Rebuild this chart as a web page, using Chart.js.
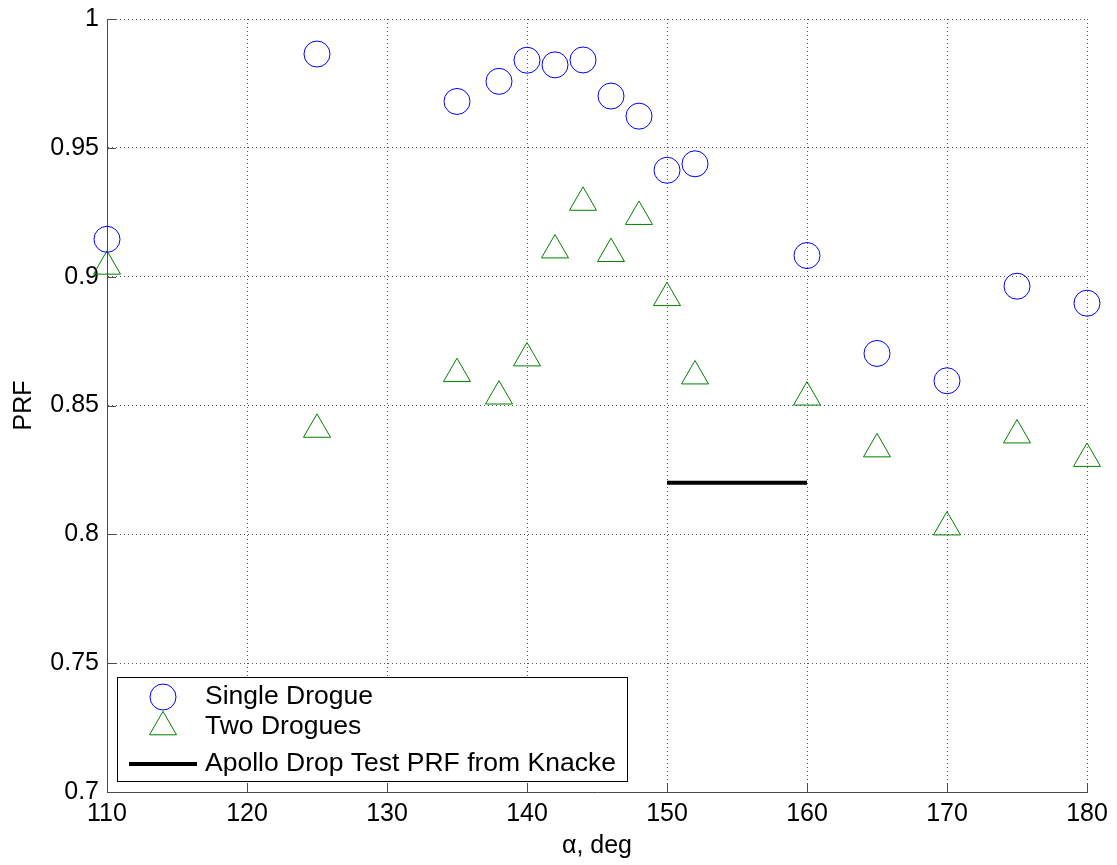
<!DOCTYPE html>
<html>
<head>
<meta charset="utf-8">
<title>PRF vs alpha</title>
<script src="https://cdn.jsdelivr.net/npm/chart.js@4.4.1/dist/chart.umd.min.js"></script>
<style>
  html, body { margin: 0; padding: 0; background: #fff; }
  #wrap { width: 1117px; height: 865px; }
</style>
</head>
<body>
<div id="wrap"><canvas id="chart" width="1117" height="865"></canvas></div>
<script>
// values
const alphaSingle = [110, 125, 135, 138, 140, 142, 144, 146, 148, 150, 152, 160, 165, 170, 175, 180];
const prfSingle = [0.9145, 0.9864, 0.968, 0.9758, 0.984, 0.9822, 0.9841, 0.9701, 0.9623, 0.9413, 0.9438, 0.9082, 0.8702, 0.8596, 0.8963, 0.8897];
const alphaTwo = [110, 125, 135, 138, 140, 142, 144, 146, 148, 150, 152, 160, 165, 170, 175, 180];
const prfTwo = [0.904, 0.8407, 0.8623, 0.8536, 0.8684, 0.9103, 0.9288, 0.9089, 0.9233, 0.8918, 0.8614, 0.8532, 0.8331, 0.8028, 0.8385, 0.8294];
const alphaApollo = [150, 160];
const prfApollo = [0.82, 0.82];

const xTicks = [110, 120, 130, 140, 150, 160, 170, 180];
const yTicks = [0.7, 0.75, 0.8, 0.85, 0.9, 0.95, 1];
const yTickLabels = ["0.7", "0.75", "0.8", "0.85", "0.9", "0.95", "1"];
const seriesNames = ["Single Drogue", "Two Drogues", "Apollo Drop Test PRF from Knacke"];

const BLUE = "#0000ff";
const GREEN = "#008000";
const AXIS = "#4a4a4a";
const FONT = "'Liberation Sans', Arial, Helvetica, sans-serif";

Chart.defaults.font.family = FONT;
Chart.defaults.font.size = 25;
Chart.defaults.color = "#000";

const toPoints = (xs, ys) => xs.map((x, i) => ({ x, y: ys[i] }));

// small inward tick marks like the MATLAB axes
const innerTicks = {
  id: "innerTicks",
  afterDatasetsDraw(chart) {
    const { ctx, chartArea, scales } = chart;
    ctx.save();
    ctx.strokeStyle = AXIS;
    ctx.lineWidth = 1;
    ctx.beginPath();
    xTicks.forEach((v) => {
      const px = Math.round(scales.x.getPixelForValue(v)) + 0.5;
      ctx.moveTo(px, chartArea.bottom);
      ctx.lineTo(px, chartArea.bottom - 9);
    });
    yTicks.forEach((v) => {
      const py = Math.round(scales.y.getPixelForValue(v)) + 0.5;
      ctx.moveTo(chartArea.left, py);
      ctx.lineTo(chartArea.left + 9, py);
    });
    ctx.stroke();
    ctx.restore();
  },
};

// boxed legend drawn inside the lower-left of the plot
const boxLegend = {
  id: "boxLegend",
  afterDraw(chart) {
    const { ctx } = chart;
    const box = { x: 117.5, y: 677.5, w: 510, h: 104 };
    const markX = 163;
    const textX = 205;
    const rows = [697, 727, 764];
    ctx.save();
    ctx.fillStyle = "#fff";
    ctx.fillRect(box.x, box.y, box.w, box.h);
    ctx.strokeStyle = "#000";
    ctx.lineWidth = 1;
    ctx.strokeRect(box.x, box.y, box.w, box.h);

    // circle
    ctx.strokeStyle = BLUE;
    ctx.beginPath();
    ctx.arc(markX, rows[0], 13, 0, Math.PI * 2);
    ctx.stroke();
    // triangle
    const r = 15.6;
    ctx.strokeStyle = GREEN;
    ctx.beginPath();
    ctx.moveTo(markX, rows[1] - r);
    ctx.lineTo(markX + 0.866 * r, rows[1] + r / 2);
    ctx.lineTo(markX - 0.866 * r, rows[1] + r / 2);
    ctx.closePath();
    ctx.stroke();
    // line sample
    ctx.strokeStyle = "#000";
    ctx.lineWidth = 4;
    ctx.beginPath();
    ctx.moveTo(129, rows[2]);
    ctx.lineTo(197, rows[2]);
    ctx.stroke();

    ctx.fillStyle = "#000";
    ctx.font = "26.5px " + FONT;
    ctx.textBaseline = "middle";
    ctx.textAlign = "left";
    seriesNames.forEach((name, i) => ctx.fillText(name, textX, rows[i]));
    ctx.restore();
  },
};

new Chart(document.getElementById("chart"), {
  type: "scatter",
  data: {
    datasets: [
      {
        label: seriesNames[0],
        data: toPoints(alphaSingle, prfSingle),
        pointStyle: "circle",
        pointRadius: 13,
        pointHoverRadius: 13,
        borderColor: BLUE,
        backgroundColor: "rgba(0,0,0,0)",
        borderWidth: 1,
        clip: false,
      },
      {
        label: seriesNames[1],
        data: toPoints(alphaTwo, prfTwo),
        pointStyle: "triangle",
        pointRadius: 15.6,
        pointHoverRadius: 15.6,
        borderColor: GREEN,
        backgroundColor: "rgba(0,0,0,0)",
        borderWidth: 1,
        clip: false,
      },
      {
        label: seriesNames[2],
        data: toPoints(alphaApollo, prfApollo),
        showLine: true,
        borderColor: "#000",
        borderWidth: 4,
        pointRadius: 0,
        pointHoverRadius: 0,
        clip: false,
      },
    ],
  },
  options: {
    responsive: false,
    animation: false,
    events: [],
    layout: { padding: { left: 0, right: 30, top: 19, bottom: 0 } },
    plugins: {
      legend: { display: false },
      tooltip: { enabled: false },
    },
    scales: {
      x: {
        type: "linear",
        min: 110,
        max: 180,
        afterBuildTicks: (scale) => {
          scale.ticks = xTicks.map((value) => ({ value }));
        },
        afterFit: (scale) => {
          scale.height = 73;
          scale.paddingLeft = 0;
          scale.paddingRight = 0;
        },
        ticks: { padding: 7, color: "#000", maxRotation: 0 },
        grid: { color: "#555", lineWidth: 1, drawTicks: false },
        border: { display: true, color: AXIS, width: 1, dash: [1, 3] },
        title: {
          display: true,
          text: "α, deg",
          color: "#000",
          padding: { top: 0, bottom: 4 },
        },
      },
      y: {
        type: "linear",
        min: 0.7,
        max: 1,
        afterBuildTicks: (scale) => {
          scale.ticks = yTicks.map((value) => ({ value }));
        },
        afterFit: (scale) => {
          scale.width = 107;
          scale.paddingTop = 0;
          scale.paddingBottom = 0;
        },
        ticks: {
          padding: 8,
          color: "#000",
          callback: (value) => yTickLabels[yTicks.indexOf(value)] ?? String(value),
        },
        grid: { color: "#555", lineWidth: 1, drawTicks: false },
        border: { display: true, color: AXIS, width: 1, dash: [1, 3] },
        title: {
          display: true,
          text: "PRF",
          color: "#000",
          padding: { top: 9, bottom: 0 },
        },
      },
    },
  },
  plugins: [innerTicks, boxLegend],
});
</script>
</body>
</html>
